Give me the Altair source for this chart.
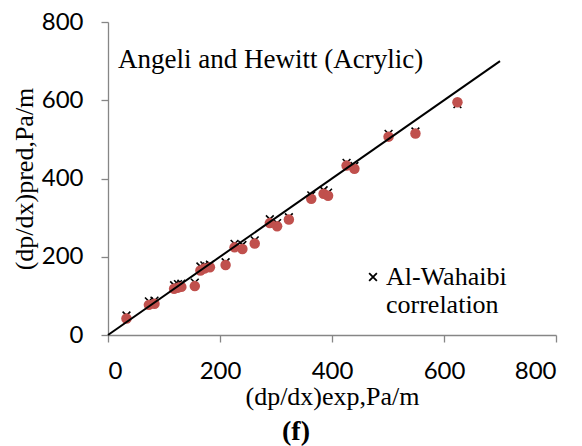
import altair as alt
import pandas as pd

# experimental pressure gradient (x) and predictions (y)
x_exp = [33, 73, 83, 118, 125, 131, 155, 165, 172, 182, 210, 226, 240, 262, 289, 302, 323, 363, 385, 393, 426, 440, 501, 549, 624]
y_model = [42, 77, 80, 118, 121, 123, 125, 165, 170, 173, 179, 224, 220, 234, 286, 278, 295, 348, 361, 356, 433, 425, 507, 515, 595]
y_alw = [50, 86, 88, 127, 130, 131, 134, 175, 178, 180, 186, 233, 230, 242, 296, 286, 301, 357, 370, 364, 440, 432, 514, 520, 590]

line_x = [0, 700]
line_y = [0, 700]

series_name = "Al-Wahaibi|correlation"

pts = pd.DataFrame({"x": x_exp, "y": y_model})
alw = pd.DataFrame({"x": x_exp, "y": y_alw, "s": [series_name] * len(x_exp)})
ln = pd.DataFrame({"x": line_x, "y": line_y})

xs = alt.Scale(domain=[0, 800], nice=False)
ys = alt.Scale(domain=[0, 800], nice=False)

serif = "Liberation Serif"

xaxis = alt.Axis(values=[0, 200, 400, 600, 800], title="(dp/dx)exp,Pa/m",
                 titleY=69, titleBaseline="alphabetic", labelPadding=17)
yaxis = alt.Axis(values=[0, 200, 400, 600, 800], title="(dp/dx)pred,Pa/m",
                 titleX=-76, titleBaseline="alphabetic", labelPadding=18)

cross_path = "M-1,-1L1,1M-1,1L1,-1"

crosses = alt.Chart(alw).mark_point(filled=False, color="black", strokeWidth=1.6, size=60, opacity=1).encode(
    x=alt.X("x:Q", scale=xs, axis=xaxis),
    y=alt.Y("y:Q", scale=ys, axis=yaxis),
    shape=alt.Shape("s:N", scale=alt.Scale(domain=[series_name], range=[cross_path]),
                    legend=alt.Legend(title=None, orient="none", legendX=252, legendY=242,
                                      labelExpr="split(datum.label, '|')",
                                      labelFont=serif, labelFontSize=26, labelColor="black",
                                      labelLimit=300,
                                      symbolStrokeColor="black", symbolStrokeWidth=1.8,
                                      symbolFillColor="transparent", symbolSize=60,
                                      labelOffset=0, padding=0)),
)

circles = alt.Chart(pts).mark_circle(color="#C0504D", size=110, opacity=1).encode(
    x=alt.X("x:Q", scale=xs),
    y=alt.Y("y:Q", scale=ys),
)

line = alt.Chart(ln).mark_line(color="black", strokeWidth=2).encode(
    x=alt.X("x:Q", scale=xs),
    y=alt.Y("y:Q", scale=ys),
)

title_txt = alt.Chart(pd.DataFrame({"t": ["Angeli and Hewitt (Acrylic)"]})).mark_text(
    align="left", baseline="alphabetic", font=serif, fontSize=27, color="black"
).encode(x=alt.value(10), y=alt.value(46), text="t:N")

panel_txt = alt.Chart(pd.DataFrame({"t": ["(f)"]})).mark_text(
    align="center", baseline="alphabetic", font=serif, fontSize=28, fontWeight="bold", color="black"
).encode(x=alt.value(188), y=alt.value(418), text="t:N")

chart = alt.layer(crosses, circles, line, title_txt, panel_txt).properties(
    width=448, height=313,
    background="white",
    autosize=alt.AutoSizeParams(type="none"),
    padding={"left": 108, "top": 22, "right": 26, "bottom": 111},
).configure_view(stroke=None).configure_axis(
    grid=False, domainColor="#868686", tickColor="#868686", domainWidth=1.3, tickWidth=1.3,
    tickSize=7, labelFont="Lato", labelFontSize=24, labelColor="black",
    titleFont=serif, titleFontSize=26, titleFontWeight="normal", titleColor="black",
)

chart.save("out.html", embed_options={"renderer": "svg", "actions": False})
